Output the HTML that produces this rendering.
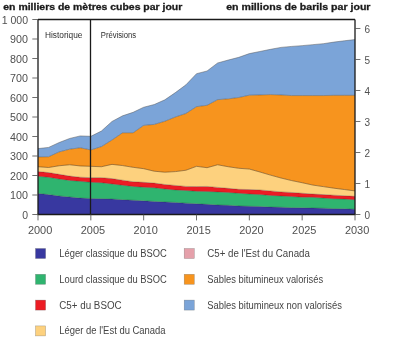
<!DOCTYPE html>
<html><head><meta charset="utf-8"><style>
html,body{margin:0;padding:0;background:#fff;}
body{width:400px;height:343px;overflow:hidden;}
svg{display:block;will-change:transform;}
</style></head><body>
<svg width="400" height="343" viewBox="0 0 400 343" font-family="Liberation Sans, sans-serif">
<polygon points="38.00,193.44 48.57,194.61 59.13,195.97 69.70,196.95 80.27,198.12 90.83,198.51 101.40,198.71 111.97,199.09 122.53,199.68 133.10,200.26 143.67,200.85 154.23,201.44 164.80,202.02 175.37,202.41 185.93,203.19 196.50,203.78 207.07,204.36 217.63,204.94 228.20,205.34 238.77,205.92 249.33,206.31 259.90,206.50 270.47,207.09 281.03,207.28 291.60,207.68 302.17,207.87 312.73,208.06 323.30,208.26 333.87,208.65 344.43,208.84 355.00,209.24 355.00,214.50 344.43,214.50 333.87,214.50 323.30,214.50 312.73,214.50 302.17,214.50 291.60,214.50 281.03,214.50 270.47,214.50 259.90,214.50 249.33,214.50 238.77,214.50 228.20,214.50 217.63,214.50 207.07,214.50 196.50,214.50 185.93,214.50 175.37,214.50 164.80,214.50 154.23,214.50 143.67,214.50 133.10,214.50 122.53,214.50 111.97,214.50 101.40,214.50 90.83,214.50 80.27,214.50 69.70,214.50 59.13,214.50 48.57,214.50 38.00,214.50" fill="#3838a0"/>
<polygon points="38.00,176.28 48.57,177.25 59.13,179.01 69.70,180.38 80.27,181.35 90.83,182.32 101.40,182.72 111.97,183.88 122.53,185.25 133.10,186.42 143.67,187.20 154.23,187.78 164.80,188.95 175.37,189.93 185.93,190.51 196.50,191.29 207.07,191.49 217.63,191.88 228.20,192.47 238.77,193.25 249.33,194.03 259.90,194.61 270.47,195.39 281.03,195.97 291.60,196.56 302.17,197.15 312.73,197.34 323.30,198.12 333.87,198.71 344.43,199.09 355.00,199.68 355.00,209.24 344.43,208.84 333.87,208.65 323.30,208.26 312.73,208.06 302.17,207.87 291.60,207.68 281.03,207.28 270.47,207.09 259.90,206.50 249.33,206.31 238.77,205.92 228.20,205.34 217.63,204.94 207.07,204.36 196.50,203.78 185.93,203.19 175.37,202.41 164.80,202.02 154.23,201.44 143.67,200.85 133.10,200.26 122.53,199.68 111.97,199.09 101.40,198.71 90.83,198.51 80.27,198.12 69.70,196.95 59.13,195.97 48.57,194.61 38.00,193.44" fill="#2fb46f"/>
<polygon points="38.00,171.60 48.57,172.57 59.13,174.33 69.70,176.09 80.27,177.25 90.83,177.64 101.40,177.64 111.97,178.62 122.53,180.18 133.10,181.74 143.67,182.32 154.23,183.10 164.80,184.47 175.37,185.44 185.93,186.42 196.50,186.62 207.07,186.42 217.63,187.40 228.20,188.37 238.77,189.34 249.33,189.54 259.90,189.93 270.47,190.91 281.03,191.88 291.60,192.47 302.17,193.25 312.73,194.03 323.30,194.61 333.87,195.19 344.43,195.78 355.00,196.37 355.00,199.68 344.43,199.09 333.87,198.71 323.30,198.12 312.73,197.34 302.17,197.15 291.60,196.56 281.03,195.97 270.47,195.39 259.90,194.61 249.33,194.03 238.77,193.25 228.20,192.47 217.63,191.88 207.07,191.49 196.50,191.29 185.93,190.51 175.37,189.93 164.80,188.95 154.23,187.78 143.67,187.20 133.10,186.42 122.53,185.25 111.97,183.88 101.40,182.72 90.83,182.32 80.27,181.35 69.70,180.38 59.13,179.01 48.57,177.25 38.00,176.28" fill="#ec1c24"/>
<polygon points="38.00,166.72 48.57,167.50 59.13,165.75 69.70,164.78 80.27,165.94 90.83,166.34 101.40,166.72 111.97,164.38 122.53,165.56 133.10,167.31 143.67,168.68 154.23,171.21 164.80,172.19 175.37,171.60 185.93,170.24 196.50,166.34 207.07,167.70 217.63,164.78 228.20,166.72 238.77,168.28 249.33,169.06 259.90,171.99 270.47,175.11 281.03,178.03 291.60,180.57 302.17,182.72 312.73,185.06 323.30,186.62 333.87,188.18 344.43,189.54 355.00,190.91 355.00,196.37 344.43,195.78 333.87,195.19 323.30,194.61 312.73,194.03 302.17,193.25 291.60,192.47 281.03,191.88 270.47,190.91 259.90,189.93 249.33,189.54 238.77,189.34 228.20,188.37 217.63,187.40 207.07,186.42 196.50,186.62 185.93,186.42 175.37,185.44 164.80,184.47 154.23,183.10 143.67,182.32 133.10,181.74 122.53,180.18 111.97,178.62 101.40,177.64 90.83,177.64 80.27,177.25 69.70,176.09 59.13,174.33 48.57,172.57 38.00,171.60" fill="#fdd17e"/>
<polygon points="38.00,156.97 48.57,156.78 59.13,151.91 69.70,149.18 80.27,147.81 90.83,149.95 101.40,146.64 111.97,140.01 122.53,132.80 133.10,132.80 143.67,125.38 154.23,124.41 164.80,121.29 175.37,117.00 185.93,113.49 196.50,106.66 207.07,105.30 217.63,99.64 228.20,98.86 238.77,97.50 249.33,95.16 259.90,94.96 270.47,94.58 281.03,94.96 291.60,95.55 302.17,95.55 312.73,95.55 323.30,95.55 333.87,95.35 344.43,95.35 355.00,95.35 355.00,190.91 344.43,189.54 333.87,188.18 323.30,186.62 312.73,185.06 302.17,182.72 291.60,180.57 281.03,178.03 270.47,175.11 259.90,171.99 249.33,169.06 238.77,168.28 228.20,166.72 217.63,164.78 207.07,167.70 196.50,166.34 185.93,170.24 175.37,171.60 164.80,172.19 154.23,171.21 143.67,168.68 133.10,167.31 122.53,165.56 111.97,164.38 101.40,166.72 90.83,166.34 80.27,165.94 69.70,164.78 59.13,165.75 48.57,167.50 38.00,166.72" fill="#f7941e"/>
<polygon points="38.00,148.59 48.57,147.42 59.13,142.55 69.70,138.45 80.27,135.91 90.83,136.31 101.40,131.04 111.97,121.48 122.53,115.83 133.10,112.32 143.67,107.25 154.23,104.52 164.80,99.84 175.37,92.62 185.93,84.82 196.50,73.71 207.07,70.98 217.63,62.98 228.20,60.06 238.77,57.33 249.33,53.62 259.90,51.48 270.47,49.34 281.03,47.38 291.60,46.41 302.17,45.63 312.73,44.66 323.30,43.68 333.87,42.12 344.43,40.75 355.00,39.59 355.00,95.35 344.43,95.35 333.87,95.35 323.30,95.55 312.73,95.55 302.17,95.55 291.60,95.55 281.03,94.96 270.47,94.58 259.90,94.96 249.33,95.16 238.77,97.50 228.20,98.86 217.63,99.64 207.07,105.30 196.50,106.66 185.93,113.49 175.37,117.00 164.80,121.29 154.23,124.41 143.67,125.38 133.10,132.80 122.53,132.80 111.97,140.01 101.40,146.64 90.83,149.95 80.27,147.81 69.70,149.18 59.13,151.91 48.57,156.78 38.00,156.97" fill="#7ba4d8"/>
<polyline points="38.00,193.44 48.57,194.61 59.13,195.97 69.70,196.95 80.27,198.12 90.83,198.51 101.40,198.71 111.97,199.09 122.53,199.68 133.10,200.26 143.67,200.85 154.23,201.44 164.80,202.02 175.37,202.41 185.93,203.19 196.50,203.78 207.07,204.36 217.63,204.94 228.20,205.34 238.77,205.92 249.33,206.31 259.90,206.50 270.47,207.09 281.03,207.28 291.60,207.68 302.17,207.87 312.73,208.06 323.30,208.26 333.87,208.65 344.43,208.84 355.00,209.24" fill="none" stroke="#222" stroke-opacity="0.5" stroke-width="0.6"/>
<polyline points="38.00,176.28 48.57,177.25 59.13,179.01 69.70,180.38 80.27,181.35 90.83,182.32 101.40,182.72 111.97,183.88 122.53,185.25 133.10,186.42 143.67,187.20 154.23,187.78 164.80,188.95 175.37,189.93 185.93,190.51 196.50,191.29 207.07,191.49 217.63,191.88 228.20,192.47 238.77,193.25 249.33,194.03 259.90,194.61 270.47,195.39 281.03,195.97 291.60,196.56 302.17,197.15 312.73,197.34 323.30,198.12 333.87,198.71 344.43,199.09 355.00,199.68" fill="none" stroke="#222" stroke-opacity="0.5" stroke-width="0.6"/>
<polyline points="38.00,171.60 48.57,172.57 59.13,174.33 69.70,176.09 80.27,177.25 90.83,177.64 101.40,177.64 111.97,178.62 122.53,180.18 133.10,181.74 143.67,182.32 154.23,183.10 164.80,184.47 175.37,185.44 185.93,186.42 196.50,186.62 207.07,186.42 217.63,187.40 228.20,188.37 238.77,189.34 249.33,189.54 259.90,189.93 270.47,190.91 281.03,191.88 291.60,192.47 302.17,193.25 312.73,194.03 323.30,194.61 333.87,195.19 344.43,195.78 355.00,196.37" fill="none" stroke="#222" stroke-opacity="0.45" stroke-width="0.6"/>
<polyline points="38.00,166.72 48.57,167.50 59.13,165.75 69.70,164.78 80.27,165.94 90.83,166.34 101.40,166.72 111.97,164.38 122.53,165.56 133.10,167.31 143.67,168.68 154.23,171.21 164.80,172.19 175.37,171.60 185.93,170.24 196.50,166.34 207.07,167.70 217.63,164.78 228.20,166.72 238.77,168.28 249.33,169.06 259.90,171.99 270.47,175.11 281.03,178.03 291.60,180.57 302.17,182.72 312.73,185.06 323.30,186.62 333.87,188.18 344.43,189.54 355.00,190.91" fill="none" stroke="#5a3a10" stroke-opacity="0.9" stroke-width="0.6"/>
<polyline points="38.00,156.97 48.57,156.78 59.13,151.91 69.70,149.18 80.27,147.81 90.83,149.95 101.40,146.64 111.97,140.01 122.53,132.80 133.10,132.80 143.67,125.38 154.23,124.41 164.80,121.29 175.37,117.00 185.93,113.49 196.50,106.66 207.07,105.30 217.63,99.64 228.20,98.86 238.77,97.50 249.33,95.16 259.90,94.96 270.47,94.58 281.03,94.96 291.60,95.55 302.17,95.55 312.73,95.55 323.30,95.55 333.87,95.35 344.43,95.35 355.00,95.35" fill="none" stroke="#444" stroke-opacity="0.7" stroke-width="0.6"/>
<polyline points="38.00,148.59 48.57,147.42 59.13,142.55 69.70,138.45 80.27,135.91 90.83,136.31 101.40,131.04 111.97,121.48 122.53,115.83 133.10,112.32 143.67,107.25 154.23,104.52 164.80,99.84 175.37,92.62 185.93,84.82 196.50,73.71 207.07,70.98 217.63,62.98 228.20,60.06 238.77,57.33 249.33,53.62 259.90,51.48 270.47,49.34 281.03,47.38 291.60,46.41 302.17,45.63 312.73,44.66 323.30,43.68 333.87,42.12 344.43,40.75 355.00,39.59" fill="none" stroke="#555" stroke-opacity="0.8" stroke-width="0.6"/>
<path d="M38.0,19.5 H355.0 M38.0,19.5 V214.5 M355.0,19.5 V214.5 M90.5,19.5 V214.5" fill="none" stroke="#1a1a1a" stroke-width="1.3"/>
<path d="M37.4,214.5 H355.6" fill="none" stroke="#1a1a1a" stroke-width="1.6"/>
<path d="M32.3,214.50 H38.0 M32.3,195.00 H38.0 M32.3,175.50 H38.0 M32.3,156.00 H38.0 M32.3,136.50 H38.0 M32.3,117.00 H38.0 M32.3,97.50 H38.0 M32.3,78.00 H38.0 M32.3,58.50 H38.0 M32.3,39.00 H38.0 M32.3,19.50 H38.0 M355.0,214.50 H360.4 M355.0,183.50 H360.4 M355.0,152.50 H360.4 M355.0,121.49 H360.4 M355.0,90.49 H360.4 M355.0,59.49 H360.4 M355.0,28.49 H360.4 M38.00,214.5 V220.4 M90.83,214.5 V220.4 M143.67,214.5 V220.4 M196.50,214.5 V220.4 M249.33,214.5 V220.4 M302.17,214.5 V220.4 M355.00,214.5 V220.4" fill="none" stroke="#555" stroke-width="0.85"/>
<text x="28.0" y="218.90" text-anchor="end" font-size="10" fill="#505050" textLength="5.8" lengthAdjust="spacingAndGlyphs">0</text>
<text x="28.0" y="199.40" text-anchor="end" font-size="10" fill="#505050" textLength="17.9" lengthAdjust="spacingAndGlyphs">100</text>
<text x="28.0" y="179.90" text-anchor="end" font-size="10" fill="#505050" textLength="17.9" lengthAdjust="spacingAndGlyphs">200</text>
<text x="28.0" y="160.40" text-anchor="end" font-size="10" fill="#505050" textLength="17.9" lengthAdjust="spacingAndGlyphs">300</text>
<text x="28.0" y="140.90" text-anchor="end" font-size="10" fill="#505050" textLength="17.9" lengthAdjust="spacingAndGlyphs">400</text>
<text x="28.0" y="121.40" text-anchor="end" font-size="10" fill="#505050" textLength="17.9" lengthAdjust="spacingAndGlyphs">500</text>
<text x="28.0" y="101.90" text-anchor="end" font-size="10" fill="#505050" textLength="17.9" lengthAdjust="spacingAndGlyphs">600</text>
<text x="28.0" y="82.40" text-anchor="end" font-size="10" fill="#505050" textLength="17.9" lengthAdjust="spacingAndGlyphs">700</text>
<text x="28.0" y="62.90" text-anchor="end" font-size="10" fill="#505050" textLength="17.9" lengthAdjust="spacingAndGlyphs">800</text>
<text x="28.0" y="43.40" text-anchor="end" font-size="10" fill="#505050" textLength="17.9" lengthAdjust="spacingAndGlyphs">900</text>
<text x="28.0" y="23.90" text-anchor="end" font-size="10" fill="#505050" textLength="26.3" lengthAdjust="spacingAndGlyphs">1 000</text>
<text x="364.6" y="219.10" font-size="10" fill="#505050">0</text>
<text x="364.6" y="188.10" font-size="10" fill="#505050">1</text>
<text x="364.6" y="157.10" font-size="10" fill="#505050">2</text>
<text x="364.6" y="126.09" font-size="10" fill="#505050">3</text>
<text x="364.6" y="95.09" font-size="10" fill="#505050">4</text>
<text x="364.6" y="64.09" font-size="10" fill="#505050">5</text>
<text x="364.6" y="33.09" font-size="10" fill="#505050">6</text>
<text x="40.10" y="233.7" text-anchor="middle" font-size="10" fill="#505050" textLength="24.4" lengthAdjust="spacingAndGlyphs">2000</text>
<text x="92.93" y="233.7" text-anchor="middle" font-size="10" fill="#505050" textLength="24.4" lengthAdjust="spacingAndGlyphs">2005</text>
<text x="145.77" y="233.7" text-anchor="middle" font-size="10" fill="#505050" textLength="24.4" lengthAdjust="spacingAndGlyphs">2010</text>
<text x="198.60" y="233.7" text-anchor="middle" font-size="10" fill="#505050" textLength="24.4" lengthAdjust="spacingAndGlyphs">2015</text>
<text x="251.43" y="233.7" text-anchor="middle" font-size="10" fill="#505050" textLength="24.4" lengthAdjust="spacingAndGlyphs">2020</text>
<text x="304.27" y="233.7" text-anchor="middle" font-size="10" fill="#505050" textLength="24.4" lengthAdjust="spacingAndGlyphs">2025</text>
<text x="357.10" y="233.7" text-anchor="middle" font-size="10" fill="#505050" textLength="24.4" lengthAdjust="spacingAndGlyphs">2030</text>
<text x="3.3" y="9.8" font-size="9.5" font-weight="bold" fill="#1a1a1a" stroke="#1a1a1a" stroke-width="0.3" textLength="179" lengthAdjust="spacingAndGlyphs">en milliers de mètres cubes par jour</text>
<text x="226.2" y="9.8" font-size="9.5" font-weight="bold" fill="#1a1a1a" stroke="#1a1a1a" stroke-width="0.3" textLength="144.3" lengthAdjust="spacingAndGlyphs">en millions de barils par jour</text>
<text x="45.0" y="38.3" font-size="9.2" fill="#2e2e2e" textLength="37.4" lengthAdjust="spacingAndGlyphs">Historique</text>
<text x="100.8" y="38.3" font-size="9.2" fill="#2e2e2e" textLength="35.4" lengthAdjust="spacingAndGlyphs">Prévisions</text>
<rect x="35.5" y="248.5" width="10.1" height="10" fill="#3838a0" stroke="#555" stroke-opacity="0.5" stroke-width="0.5"/>
<text x="59.3" y="256.90" font-size="10" fill="#454545" textLength="107.5" lengthAdjust="spacingAndGlyphs">Léger classique du BSOC</text>
<rect x="35.5" y="274.3" width="10.1" height="10" fill="#2fb46f" stroke="#555" stroke-opacity="0.5" stroke-width="0.5"/>
<text x="59.3" y="282.70" font-size="10" fill="#454545" textLength="107.5" lengthAdjust="spacingAndGlyphs">Lourd classique du BSOC</text>
<rect x="35.5" y="300.1" width="10.1" height="10" fill="#ec1c24" stroke="#555" stroke-opacity="0.5" stroke-width="0.5"/>
<text x="59.3" y="308.50" font-size="10" fill="#454545" textLength="62.3" lengthAdjust="spacingAndGlyphs">C5+ du BSOC</text>
<rect x="35.5" y="325.9" width="10.1" height="10" fill="#fdd17e" stroke="#555" stroke-opacity="0.5" stroke-width="0.5"/>
<text x="59.3" y="334.30" font-size="10" fill="#454545" textLength="106.3" lengthAdjust="spacingAndGlyphs">Léger de l'Est du Canada</text>
<rect x="184.2" y="248.5" width="10.1" height="10" fill="#e5a0aa" stroke="#555" stroke-opacity="0.5" stroke-width="0.5"/>
<text x="207.3" y="256.90" font-size="10" fill="#454545" textLength="102.6" lengthAdjust="spacingAndGlyphs">C5+ de l'Est du Canada</text>
<rect x="184.2" y="274.3" width="10.1" height="10" fill="#f7941e" stroke="#555" stroke-opacity="0.5" stroke-width="0.5"/>
<text x="207.3" y="282.70" font-size="10" fill="#454545" textLength="115.8" lengthAdjust="spacingAndGlyphs">Sables bitumineux valorisés</text>
<rect x="184.2" y="300.1" width="10.1" height="10" fill="#7ba4d8" stroke="#555" stroke-opacity="0.5" stroke-width="0.5"/>
<text x="207.3" y="308.50" font-size="10" fill="#454545" textLength="134.6" lengthAdjust="spacingAndGlyphs">Sables bitumineux non valorisés</text>
</svg>
</body></html>
